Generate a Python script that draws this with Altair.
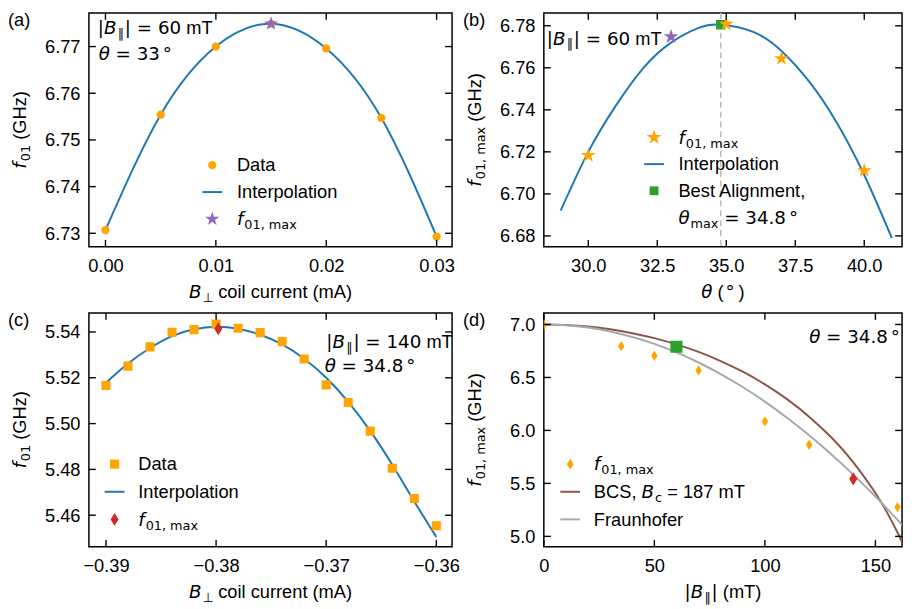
import altair as alt
import pandas as pd

# ---------------- data ----------------
# panel (a)
a_current = [0.000, 0.005, 0.010, 0.015, 0.020, 0.025, 0.030]
a_f01 = [6.7307, 6.7554, 6.7700, 6.7749, 6.7696, 6.7547, 6.7293]
a_peak_current = [0.015]
a_peak_f01 = [6.7749]

# panel (b)
b_theta = [30.0, 35.0, 37.0, 40.0]
b_f01max = [6.7183, 6.7808, 6.7644, 6.7111]
b_theta_a = [33.0]
b_f01max_a = [6.7748]
b_fit_theta = [29.0, 30.0, 31.0, 32.0, 33.0, 34.0, 34.8, 36.0, 37.0, 38.0, 39.0, 40.0, 41.0]
b_fit_f = [6.692, 6.720, 6.742, 6.760, 6.772, 6.779, 6.7805, 6.777, 6.768, 6.7535, 6.734, 6.709, 6.679]
b_best_theta = [34.8]
b_best_f = [6.7805]

# panel (c)
c_current = [-0.390, -0.388, -0.386, -0.384, -0.382, -0.380, -0.378, -0.376,
             -0.374, -0.372, -0.370, -0.368, -0.366, -0.364, -0.362, -0.360]
c_f01 = [5.5166, 5.5251, 5.5335, 5.5399, 5.5410, 5.5434, 5.5416, 5.5397,
         5.5358, 5.5282, 5.5169, 5.5092, 5.4967, 5.4805, 5.4673, 5.4554]
c_fit_f = [5.5178, 5.5262, 5.5330, 5.5382, 5.5412, 5.5423, 5.5414, 5.5388,
           5.5346, 5.5283, 5.5200, 5.5095, 5.4968, 5.4820, 5.4660, 5.4505]
c_peak_current = [-0.3798]
c_peak_f01 = [5.5414]

# panel (d)
d_B = [0, 35, 50, 70, 100, 120, 160]
d_f = [6.995, 6.795, 6.705, 6.566, 6.085, 5.865, 5.276]
d_best_B = [60]
d_best_f = [6.789]
d_c_B = [140]
d_c_f = [5.543]
d_curve_B = [0, 10, 20, 30, 40, 50, 60, 70, 80, 90, 100, 110, 120, 130, 140, 150, 155, 160, 163]
d_bcs = [7.000, 6.995, 6.980, 6.955, 6.918, 6.871, 6.812, 6.741, 6.655, 6.554, 6.435,
         6.295, 6.130, 5.935, 5.699, 5.409, 5.236, 5.036, 4.900]
d_fraun = [7.000, 6.993, 6.971, 6.934, 6.882, 6.817, 6.736, 6.641, 6.532, 6.410, 6.272,
           6.120, 5.955, 5.776, 5.583, 5.376, 5.267, 5.155, 5.086]

# tick values
a_xticks = [0.0, 0.01, 0.02, 0.03]
a_yticks = [6.73, 6.74, 6.75, 6.76, 6.77]
b_xticks = [30.0, 32.5, 35.0, 37.5, 40.0]
b_yticks = [6.68, 6.70, 6.72, 6.74, 6.76, 6.78]
c_xticks = [-0.39, -0.38, -0.37, -0.36]
c_yticks = [5.46, 5.48, 5.50, 5.52, 5.54]
d_xticks = [0, 50, 100, 150]
d_yticks = [5.0, 5.5, 6.0, 6.5, 7.0]

# ---------------- styling ----------------
ORANGE = "#ffa500"
BLUE = "#1f77b4"
PURPLE = "#9467bd"
GREEN = "#2ca02c"
RED = "#d62728"
BROWN = "#8c564b"
GREY = "#a9a9a9"
DASH = "#bdbdbd"

FONT_L = "Liberation Sans"
FONT_D = "DejaVu Sans"
FS = 18.5
SUB = 13.0

STAR = ("M0,-1L0.2245,-0.309L0.9511,-0.309L0.3633,0.118L0.5878,0.809L0,0.382"
        "L-0.5878,0.809L-0.3633,0.118L-0.9511,-0.309L-0.2245,-0.309Z")
THIN_DIAMOND = "M0,-1L0.62,0L0,1L-0.62,0Z"

W_L = 368
W_R = 363
H = 237
TICK = 7

DUMMY = pd.DataFrame({"d": [0]})

WID = {
    FONT_L: {" ": .278, "(": .333, ")": .333, ",": .278, ".": .278, "=": .584,
             "A": .667, "B": .667, "C": .722, "D": .722, "F": .611, "G": .778,
             "H": .722, "I": .278, "S": .667, "T": .611, "a": .556, "b": .556,
             "c": .5, "d": .556, "e": .556, "f": .278, "g": .556, "h": .556,
             "i": .222, "l": .222, "m": .833, "n": .556, "o": .556, "p": .556,
             "r": .333, "t": .278, "u": .556, "z": .5, "x": .5},
    FONT_D: {" ": .318, "|": .337, "B": .686, "∥": .5, "⊥": .838, "=": .838,
             ".": .318, ",": .318, "m": .974, "T": .611, "a": .613, "x": .592,
             "c": .55, "f": .352, "θ": .602, "°": .5},
}
for fnt, dig in ((FONT_L, .556), (FONT_D, .636)):
    for ch in "0123456789":
        WID[fnt][ch] = dig

KIND = {
    "r": (FONT_L, FS, "normal", 0),
    "m": (FONT_D, FS, "normal", 0),
    "i": (FONT_D, FS, "italic", 0),
    "s": (FONT_D, SUB, "normal", 4),
}


def text_width(text, font, size):
    return sum(WID[font].get(ch, 0.6) for ch in text) * size


def rich(segs, x, y, align="left", angle=0):
    items = []
    total = 0.0
    for seg in segs:
        text, kind = seg[0], seg[1]
        gap = seg[2] if len(seg) > 2 else 0
        font, size, style, shift = KIND[kind]
        w = text_width(text, font, size)
        lead = len(text) - len(text.lstrip(" "))
        lead_w = lead * WID[font][" "] * size
        items.append((text.strip(" "), font, size, style, shift, gap, w, lead_w))
        total += gap + w
    pos = {"left": 0.0, "center": -total / 2, "right": -total}[align]
    layers = []
    for text, font, size, style, shift, gap, w, lead_w in items:
        pos += gap
        p = pos + lead_w
        if angle == 0:
            px, py = x + p, y + shift
        else:
            px, py = x + shift, y - p
        mk = dict(text=text, font=font, fontSize=size, align="left",
                  baseline="alphabetic", color="black")
        if style == "italic":
            mk["fontStyle"] = "italic"
        if angle:
            mk["angle"] = angle
        layers.append(alt.Chart(DUMMY).mark_text(**mk).encode(
            x=alt.value(px), y=alt.value(py)))
        pos += w
    return layers


def make_xy(xdom, ydom, xticks, yticks, xfmt, yfmt):
    xs = alt.Scale(domain=xdom, nice=False, zero=False)
    ys = alt.Scale(domain=ydom, nice=False, zero=False)
    common = dict(title=None, grid=False, domain=False, ticks=False, tickSize=0,
                  labelFlush=False, labelOverlap=False, labelBound=False)
    xa = alt.Axis(values=xticks, format=xfmt, labelPadding=10, **common)
    ya = alt.Axis(values=yticks, format=yfmt, labelPadding=9, **common)

    def X(f):
        return alt.X(f, type="quantitative", scale=xs, axis=xa)

    def Y(f):
        return alt.Y(f, type="quantitative", scale=ys, axis=ya)
    return X, Y


# tick glyphs: a short stroke pointing into the plot from the frame
TICK_UP = "M0,0L0,-2"
TICK_DOWN = "M0,0L0,2"
TICK_RIGHT = "M0,0L2,0"
TICK_LEFT = "M0,0L-2,0"


def tick_layers(X, Y, xdom, ydom, xticks, yticks):
    n, m = len(xticks), len(yticks)
    sides = [
        (pd.DataFrame({"x": xticks, "y": [ydom[0]] * n}), TICK_UP),
        (pd.DataFrame({"x": xticks, "y": [ydom[1]] * n}), TICK_DOWN),
        (pd.DataFrame({"x": [xdom[0]] * m, "y": yticks}), TICK_RIGHT),
        (pd.DataFrame({"x": [xdom[1]] * m, "y": yticks}), TICK_LEFT),
    ]
    return [alt.Chart(df).mark_point(shape=shape, filled=False, color="black",
                                     strokeWidth=1.4, size=TICK * TICK, opacity=1,
                                     strokeCap="butt").encode(x=X("x"), y=Y("y"))
            for df, shape in sides]


def pts(xs_, ys_, X, Y, shape, color, size):
    df = pd.DataFrame({"x": xs_, "y": ys_})
    return alt.Chart(df).mark_point(shape=shape, filled=True, color=color, size=size,
                                    opacity=1, strokeWidth=0, clip=True).encode(
        x=X("x"), y=Y("y"))


def curve(xs_, ys_, X, Y, color, width=2):
    df = pd.DataFrame({"x": xs_, "y": ys_})
    return alt.Chart(df).mark_line(color=color, strokeWidth=width, interpolate="natural",
                                   clip=True).encode(x=X("x"), y=Y("y"))


def leg_sym(kind, px, py, color, shape=None, size=None):
    if kind == "line":
        return alt.Chart(DUMMY).mark_rule(color=color, strokeWidth=2).encode(
            x=alt.value(px - 10), x2=alt.value(px + 10), y=alt.value(py))
    return alt.Chart(DUMMY).mark_point(shape=shape, filled=True, color=color, size=size,
                                       opacity=1, strokeWidth=0).encode(
        x=alt.value(px), y=alt.value(py))


def legend(rows, xs_, xt, base0, dy):
    layers = []
    for i, (sym, segs) in enumerate(rows):
        b = base0 + i * dy
        if sym is not None:
            kind, color, shape, size = sym
            layers.append(leg_sym(kind, xs_, b - 6.3, color, shape, size))
        layers += rich(segs, xt, b)
    return layers


BPAR = [("|", "m"), ("B", "i"), ("∥", "s", 1), ("|", "m", 1)]
F01 = [("f", "i"), ("01", "s", 1)]
F01MAX = [("f", "i"), ("01, max", "s", 1)]


def titles(W, xsegs, ysegs, label):
    return (rich(xsegs, W / 2, H + 52, align="center")
            + rich(ysegs, -64, H / 2, align="center", angle=270)
            + rich([(label, "r")], -82, 13.5))


# ---------------- panel (a) ----------------
xdom, ydom = [-0.0015, 0.0314], [6.7271, 6.7772]
X, Y = make_xy(xdom, ydom, a_xticks, a_yticks, ".2f", ".2f")
la = [curve(a_current, a_f01, X, Y, BLUE),
      pts(a_current, a_f01, X, Y, "circle", ORANGE, 70),
      pts(a_peak_current, a_peak_f01, X, Y, STAR, PURPLE, 230)]
la += tick_layers(X, Y, xdom, ydom, a_xticks, a_yticks)
la += rich(BPAR + [(" = 60", "m"), (" mT", "r")], 9, 21.5)
la += rich([("θ", "i"), (" = 33", "m"), ("°", "m", 3)], 10, 47.3)
la += legend([(("point", ORANGE, "circle", 70), [("Data", "r")]),
              (("line", BLUE, None, None), [("Interpolation", "r")]),
              (("point", PURPLE, STAR, 230), F01MAX)], 125, 150, 160.5, 27.3)
la += titles(W_L, [("B", "i"), ("⊥", "s", 1), (" coil current (mA)", "r")],
             F01 + [(" (GHz)", "r")], "(a)")
pa = alt.layer(*la).properties(width=W_L, height=H)

# ---------------- panel (b) ----------------
xdom, ydom = [28.39, 41.37], [6.6748, 6.7861]
X, Y = make_xy(xdom, ydom, b_xticks, b_yticks, ".1f", ".2f")
lb = [curve(b_fit_theta, b_fit_f, X, Y, BLUE),
      alt.Chart(pd.DataFrame({"x": b_best_theta})).mark_rule(
          color=DASH, strokeDash=[6, 4], strokeWidth=1.6).encode(x=X("x")),
      pts(b_best_theta, b_best_f, X, Y, "square", GREEN, 90),
      pts(b_theta, b_f01max, X, Y, STAR, ORANGE, 250),
      pts(b_theta_a, b_f01max_a, X, Y, STAR, PURPLE, 250)]
lb += tick_layers(X, Y, xdom, ydom, b_xticks, b_yticks)
lb += rich(BPAR + [(" = 60", "m"), (" mT", "r")], 3, 32)
lb += legend([(("point", ORANGE, STAR, 250), F01MAX),
              (("line", BLUE, None, None), [("Interpolation", "r")]),
              (("point", GREEN, "square", 80), [("Best Alignment,", "r")]),
              (None, [("θ", "i"), ("max", "s", 1), (" = 34.8", "m"), ("°", "m", 3)])],
             111.7, 136.4, 132.5, 27)
lb += titles(W_R, [("θ", "i"), (" (", "r"), ("°", "m", 2), (")", "r", 4)],
             F01MAX + [(" (GHz)", "r")], "(b)")
pb = alt.layer(*lb).properties(width=W_R, height=H)

# ---------------- panel (c) ----------------
xdom, ydom = [-0.39155, -0.35857], [5.4462, 5.5483]
X, Y = make_xy(xdom, ydom, c_xticks, c_yticks, ".2f", ".2f")
lc = [curve(c_current, c_fit_f, X, Y, BLUE),
      pts(c_current, c_f01, X, Y, "square", ORANGE, 85),
      pts(c_peak_current, c_peak_f01, X, Y, THIN_DIAMOND, RED, 169)]
lc += tick_layers(X, Y, xdom, ydom, c_xticks, c_yticks)
lc += rich(BPAR + [(" = 140", "m"), (" mT", "r")], 240.6, 36)
lc += rich([("θ", "i"), (" = 34.8", "m"), ("°", "m", 3)], 239, 60)
lc += legend([(("point", ORANGE, "square", 85), [("Data", "r")]),
              (("line", BLUE, None, None), [("Interpolation", "r")]),
              (("point", RED, THIN_DIAMOND, 169), F01MAX)], 26, 50, 159.5, 28)
lc += titles(W_L, [("B", "i"), ("⊥", "s", 1), (" coil current (mA)", "r")],
             F01 + [(" (GHz)", "r")], "(c)")
pc = alt.layer(*lc).properties(width=W_L, height=H)

# ---------------- panel (d) ----------------
xdom, ydom = [0, 162.05], [4.9014, 7.1088]
X, Y = make_xy(xdom, ydom, d_xticks, d_yticks, "d", ".1f")
ld = [curve(d_curve_B, d_bcs, X, Y, BROWN),
      curve(d_curve_B, d_fraun, X, Y, GREY),
      pts(d_B, d_f, X, Y, THIN_DIAMOND, ORANGE, 110),
      pts(d_best_B, d_best_f, X, Y, "square", GREEN, 150),
      pts(d_c_B, d_c_f, X, Y, THIN_DIAMOND, RED, 180)]
ld += tick_layers(X, Y, xdom, ydom, d_xticks, d_yticks)
ld += rich([("θ", "i"), (" = 34.8", "m"), ("°", "m", 3)], 269, 30)
ld += legend([(("point", ORANGE, THIN_DIAMOND, 121), F01MAX),
              (("line", BROWN, None, None),
               [("BCS, ", "r"), ("B", "i"), ("c", "s", 1), (" = 187 mT", "r")]),
              (("line", GREY, None, None), [("Fraunhofer", "r")])],
             26.7, 50.7, 159.5, 28)
ld += titles(W_R, BPAR + [(" (mT)", "r")], F01MAX + [(" (GHz)", "r")], "(d)")
pd_ = alt.layer(*ld).properties(width=W_R, height=H)

chart = alt.concat(
    pa, pb, pc, pd_, columns=2, spacing={"row": 67, "column": 93}, bounds="flush"
).properties(
    padding={"left": -1, "top": -3, "right": 0, "bottom": 0}
).configure_view(
    stroke="black", strokeWidth=1.5
).configure_axis(
    labelFont=FONT_L, labelFontSize=FS, labelColor="black"
)

chart.save("out.html", embed_options={"renderer": "svg", "actions": False})
